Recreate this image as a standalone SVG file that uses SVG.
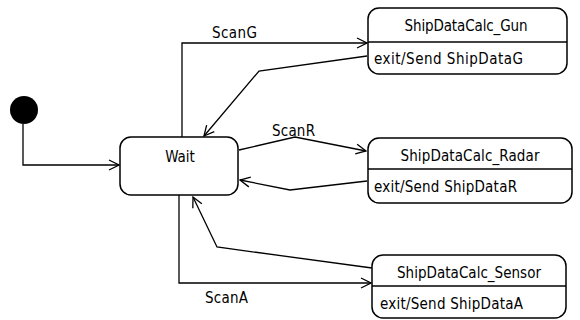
<svg xmlns="http://www.w3.org/2000/svg" width="580" height="320" viewBox="0 0 580 320">
  <style>
    .state { fill: #ffffff; stroke: #000000; stroke-width: 1.5; }
    .div { stroke: #000000; stroke-width: 1.3; }
    .edge { fill: none; stroke: #000000; stroke-width: 1.3; }
    text { font-family: "DejaVu Sans Condensed", "DejaVu Sans", Verdana, sans-serif; font-size: 15px; fill: #000000; }
    .c { text-anchor: middle; }
  </style>
  <defs>
    <marker id="open" markerWidth="12" markerHeight="12" refX="11" refY="6" orient="auto" markerUnits="userSpaceOnUse">
      <path d="M1,1 L11,6 L1,11" fill="none" stroke="#000000" stroke-width="1.3"/>
    </marker>
  </defs>

  <g id="initial">
    <circle cx="24" cy="110" r="14" fill="#000000"/>
  </g>

  <g id="wait">
    <rect class="state" x="120" y="137" width="118" height="58" rx="11"/>
    <text class="c" x="180" y="162">Wait</text>
  </g>

  <g id="gun">
    <rect class="state" x="368" y="8" width="199" height="66" rx="11"/>
    <line class="div" x1="368" y1="42" x2="567" y2="42"/>
    <text class="c" x="466" y="31" textLength="123" lengthAdjust="spacing">ShipDataCalc_Gun</text>
    <text x="374" y="64" textLength="149" lengthAdjust="spacing">exit/Send ShipDataG</text>
  </g>

  <g id="radar">
    <rect class="state" x="368" y="138" width="204" height="65" rx="11"/>
    <line class="div" x1="368" y1="169" x2="572" y2="169"/>
    <text class="c" x="470" y="161" textLength="139" lengthAdjust="spacing">ShipDataCalc_Radar</text>
    <text x="374" y="192" textLength="143" lengthAdjust="spacing">exit/Send ShipDataR</text>
  </g>

  <g id="sensor">
    <rect class="state" x="372" y="255" width="194" height="63" rx="11"/>
    <line class="div" x1="372" y1="286" x2="566" y2="286"/>
    <text class="c" x="469" y="278" textLength="144" lengthAdjust="spacing">ShipDataCalc_Sensor</text>
    <text x="380" y="309" textLength="143" lengthAdjust="spacing">exit/Send ShipDataA</text>
  </g>

  <g id="connectors">
    <path class="edge" d="M23,124 L23,165 L119,165" marker-end="url(#open)"/>
    <path class="edge" d="M182,137 L182,43 L367,43" marker-end="url(#open)"/>
    <path class="edge" d="M367,56 L259,71 L204,136" marker-end="url(#open)"/>
    <path class="edge" d="M239,150 L295,137 L366,151" marker-end="url(#open)"/>
    <path class="edge" d="M367,181 L290,190 L240,180" marker-end="url(#open)"/>
    <path class="edge" d="M372,268 L217,247 L193,197" marker-end="url(#open)"/>
    <path class="edge" d="M179,195 L179,283 L371,283" marker-end="url(#open)"/>
    <text x="212" y="38" textLength="45" lengthAdjust="spacing">ScanG</text>
    <text x="272" y="136" textLength="43" lengthAdjust="spacing">ScanR</text>
    <text x="205" y="303" textLength="43" lengthAdjust="spacing">ScanA</text>
  </g>
</svg>
